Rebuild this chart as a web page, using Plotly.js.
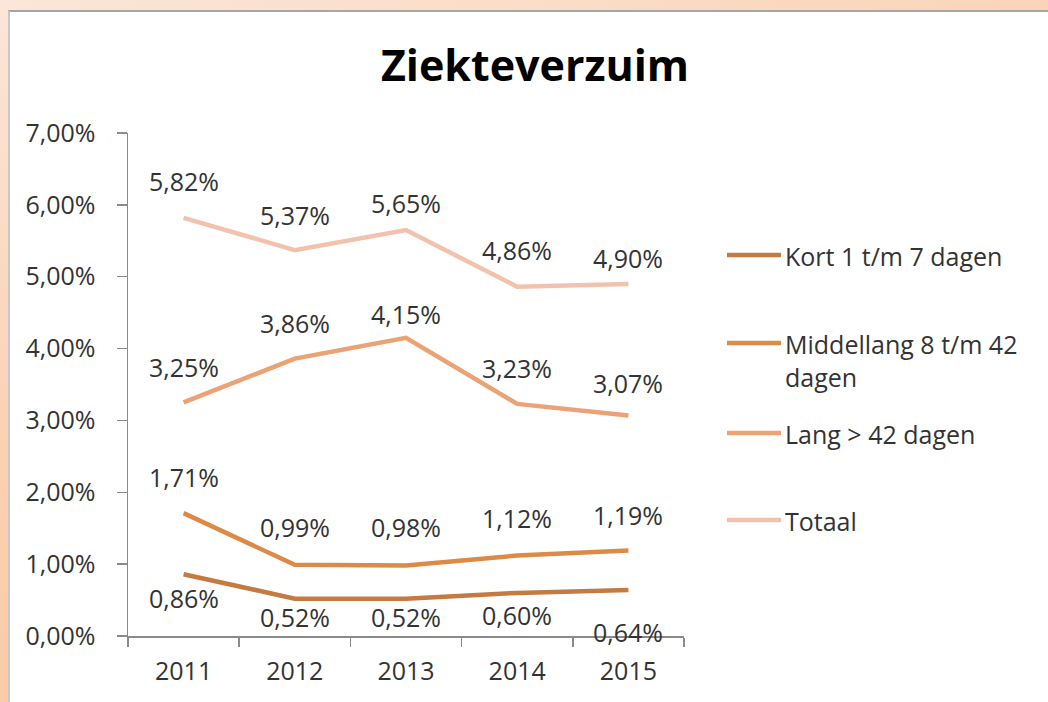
<!DOCTYPE html>
<html>
<head>
<meta charset="utf-8">
<script src="https://cdn.plot.ly/plotly-3.0.1.min.js"></script>
<style>
  html, body { margin: 0; padding: 0; width: 1048px; height: 702px; overflow: hidden; }
  body { background: linear-gradient(160deg, #fbe6d8 0%, #fad2b4 40%, #f9c294 100%); }
  #frame { position: absolute; left: 8px; top: 10px; width: 1040px; height: 692px;
           border-top: 2px solid #a6a6a6; border-left: 2px solid #c8c8c8; background: #fff; box-sizing: border-box; }
  #chart { position: absolute; left: 10px; top: 12px; width: 1038px; height: 690px; }
</style>
</head>
<body>
<div id="frame"></div>
<div id="chart"></div>
<script>
// ---- data ----
const years = ['2011', '2012', '2013', '2014', '2015'];
const seriesNames = ['Kort 1 t/m 7 dagen', 'Middellang 8 t/m 42<br>dagen', 'Lang > 42 dagen', 'Totaal'];
const kort = [0.86, 0.52, 0.52, 0.60, 0.64];
const middellang = [1.71, 0.99, 0.98, 1.12, 1.19];
const lang = [3.25, 3.86, 4.15, 3.23, 3.07];
const totaal = [5.82, 5.37, 5.65, 4.86, 4.90];
const yTicks = [0, 1, 2, 3, 4, 5, 6, 7];

// ---- styling ----
const colors = ['#c47a40', '#dc8a45', '#eba274', '#f2c2ad'];
const labelShift = [
  [-24, -18, -18, -22, -42],
  [36, 38, 39, 38, 35],
  [35, 36, 24, 36, 32],
  [37, 35, 27, 37, 26]
];
const allSeries = [kort, middellang, lang, totaal];
const fontFam = '"Open Sans", "Noto Sans", sans-serif';
const textCol = '#333333';
const FS = 25;

// plot geometry (chart-div pixels)
const W = 1038, H = 690;
const M = { l: 118, r: 364, t: 121, b: 66 };
const PW = W - M.l - M.r, PH = H - M.t - M.b;
const px = x => (x - 10 - M.l) / PW;          // page x -> paper
const py = y => 1 - (y - 12 - M.t) / PH;      // page y -> paper

const fmt = v => v.toFixed(2).replace('.', ',') + '%';

const traces = allSeries.map((s, i) => ({
  type: 'scatter', mode: 'lines', x: years, y: s, name: seriesNames[i],
  line: { color: colors[i], width: 4.5 }, showlegend: false, hoverinfo: 'skip'
}));

const annotations = [];
allSeries.forEach((s, i) => {
  s.forEach((v, j) => {
    annotations.push({
      x: j, y: v, xref: 'x', yref: 'y', text: fmt(v), showarrow: false,
      yshift: labelShift[i][j], xanchor: 'center', yanchor: 'middle',
      font: { family: fontFam, size: FS, color: textCol }
    });
  });
});

// manual legend
const legendY = [255, 343, 433, 520];
const shapes = [];
seriesNames.forEach((n, i) => {
  shapes.push({ type: 'line', xref: 'paper', yref: 'paper',
    x0: px(727), x1: px(781), y0: py(legendY[i]), y1: py(legendY[i]),
    line: { color: colors[i], width: 4.5 } });
  annotations.push({ xref: 'paper', yref: 'paper', x: px(783), y: py(legendY[i] - 18),
    xanchor: 'left', yanchor: 'top', align: 'left', text: n, showarrow: false,
    font: { family: fontFam, size: FS, color: textCol } });
});

const layout = {
  width: W, height: H,
  margin: M,
  paper_bgcolor: 'rgba(0,0,0,0)', plot_bgcolor: 'rgba(0,0,0,0)',
  showlegend: false,
  title: { text: '<b>Ziekteverzuim</b>', x: (535 - 10) / W, xanchor: 'center', y: 1 - (66 - 12) / H, yanchor: 'middle',
           font: { family: fontFam, size: 43, color: '#000' } },
  xaxis: {
    type: 'category', range: [-0.5, 4.5], tickson: 'boundaries',
    ticks: 'outside', ticklen: 9, tickcolor: '#8a8a8a', tickwidth: 1.5,
    showline: true, linecolor: '#8a8a8a', linewidth: 1.5, showgrid: false, zeroline: false,
    tickfont: { family: fontFam, size: FS, color: textCol }, ticklabelstandoff: 12
  },
  yaxis: {
    range: [0, 7], tickvals: yTicks, ticktext: yTicks.map(fmt),
    ticks: 'outside', ticklen: 10, tickcolor: '#8a8a8a', tickwidth: 1.5,
    showline: true, linecolor: '#8a8a8a', linewidth: 1.5, showgrid: false, zeroline: false,
    tickfont: { family: fontFam, size: FS, color: textCol }, ticklabelstandoff: 16
  },
  shapes: shapes,
  annotations: annotations
};

Plotly.newPlot('chart', traces, layout, { displayModeBar: false, staticPlot: true });
</script>
</body>
</html>
